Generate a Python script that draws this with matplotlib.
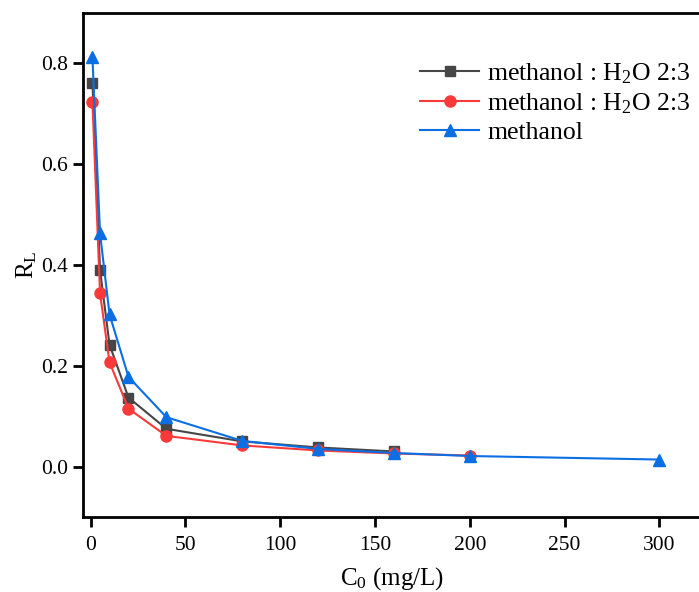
import matplotlib
matplotlib.use('Agg')
import matplotlib.pyplot as plt

plt.rcParams['font.family'] = 'Liberation Serif'
plt.rcParams['mathtext.fontset'] = 'custom'
plt.rcParams['mathtext.rm'] = 'Liberation Serif'
plt.rcParams['mathtext.it'] = 'Liberation Serif:italic'

# Initial concentration (mg/L) and separation factor R_L for each solvent
c0_mix1 = [1, 5, 10, 20, 40, 80, 120, 160]
rl_mix1 = [0.762, 0.390, 0.242, 0.137, 0.075, 0.050, 0.038, 0.030]

c0_mix2 = [1, 5, 10, 20, 40, 80, 120, 160, 200]
rl_mix2 = [0.723, 0.344, 0.207, 0.115, 0.061, 0.042, 0.032, 0.026, 0.022]

c0_meoh = [1, 5, 10, 20, 40, 80, 120, 160, 200, 300]
rl_meoh = [0.812, 0.463, 0.302, 0.178, 0.098, 0.051, 0.035, 0.027, 0.021, 0.014]

labels = ['methanol : H$_\\mathrm{2}$O 2:3', 'methanol : H$_\\mathrm{2}$O 2:3', 'methanol']

fig = plt.figure(figsize=(6.99, 5.92), dpi=100)
ax = fig.add_axes([0.1187, 0.1267, 0.8843, 0.8513])

ax.plot(c0_mix1, rl_mix1, '-s', color='#464646', lw=1.5, ms=7.5, label=labels[0])
ax.plot(c0_mix2, rl_mix2, '-o', color='#fa3a3a', lw=1.5, ms=8, label=labels[1])
ax.plot(c0_meoh, rl_meoh, '-^', color='#0b6fe4', lw=1.5, ms=9, label=labels[2])

ax.set_xlim(-4, 322)
ax.set_ylim(-0.1, 0.9)
ax.set_xticks([0, 50, 100, 150, 200, 250, 300])
ax.set_yticks([0.0, 0.2, 0.4, 0.6, 0.8])
ax.set_yticklabels(['0.0', '0.2', '0.4', '0.6', '0.8'])

for s in ax.spines.values():
    s.set_linewidth(2)
ax.tick_params(direction='out', length=7, width=2, labelsize=15.5)
ax.tick_params(axis='x', pad=7)
ax.tick_params(axis='y', pad=4)

ax.set_xlabel('C$_\\mathrm{0}$ (mg/L)', fontsize=18, labelpad=7)
ax.set_ylabel('R$_\\mathrm{L}$', fontsize=18, labelpad=1)

ax.legend(loc='upper right', bbox_to_anchor=(1.02, 0.95), frameon=False,
          fontsize=18.5, handlelength=2.3, handletextpad=0.3, labelspacing=0.2)

fig.savefig('out.png', dpi=100)
